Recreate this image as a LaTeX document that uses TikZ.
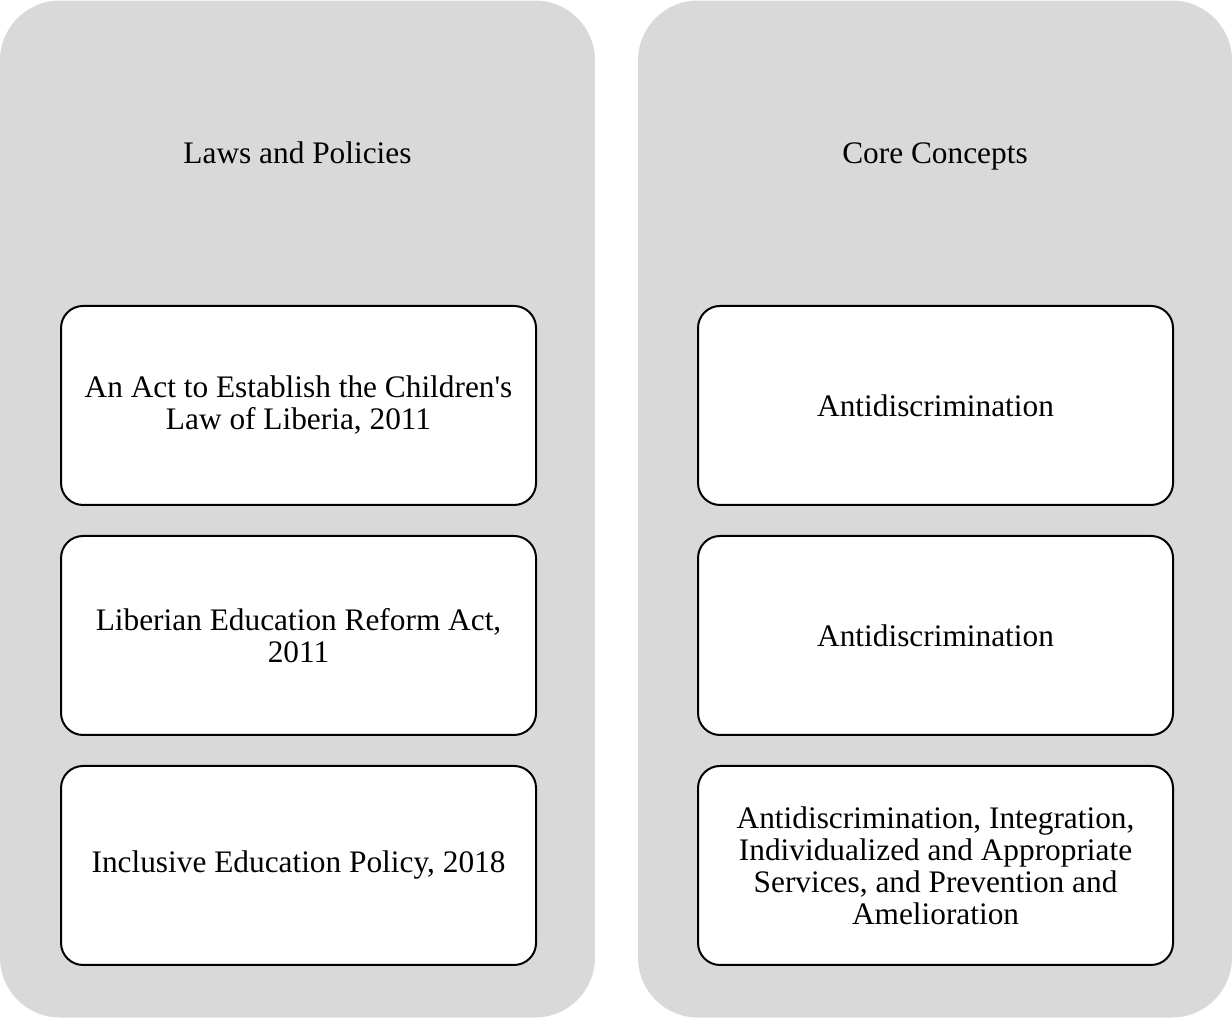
\documentclass[tikz,border=0pt]{standalone}
\usepackage{fontspec}
\setmainfont{Liberation Serif}
\usepackage{tikz}
\usetikzlibrary{positioning}
\definecolor{panelgray}{HTML}{D9D9D9}
\tikzset{%
  node distance=23.25pt,
  panel/.style={        
    rectangle,
    rounded corners=45pt,
    fill=panelgray,
    inner sep=0pt,
    minimum height=762.75pt},
  heading/.style={      
    anchor=base,
    font=\fontsize{23.5}{24}\selectfont},
  item/.style={         % white boxes inside the panels
    rectangle,
    draw,
    fill=white,
    line width=1.5pt,
    rounded corners=16.5pt,
    outer sep=0pt,
    align=center,
    minimum width=356.25pt,
    minimum height=149.25pt,
    font=\fontsize{23.5}{24}\selectfont} %
}
\begin{document}
\begin{tikzpicture}
  \useasboundingbox (0pt,0pt) rectangle (924pt,-763.5pt);

  \node[panel, minimum width=446.25pt] (lawpanel) at (223.1pt,-381.75pt) {};
  \node[panel, minimum width=445.5pt] (corepanel) at (701.25pt,-381.75pt) {};

  \node[heading] (lawtitle) at (223.1pt,-122.25pt) {Laws and Policies};
  \node[heading] (coretitle) at (701.25pt,-122.25pt) {Core Concepts};

  \node[item] (law1) at (223.9pt,-304.1pt) {An Act to Establish the Children\textquotesingle s\\Law of Liberia, 2011};
  \node[item, below=of law1] (law2) {Liberian Education Reform Act,\\2011};
  \node[item, below=of law2] (law3) {Inclusive Education Policy, 2018};

  \node[item, right=121.5pt of law1] (core1) {Antidiscrimination};
  \node[item, right=121.5pt of law2] (core2) {Antidiscrimination};
  \node[item, right=121.5pt of law3] (core3) {Antidiscrimination, Integration,\\Individualized and Appropriate\\Services, and Prevention and\\Amelioration};

\end{tikzpicture}
\end{document}
